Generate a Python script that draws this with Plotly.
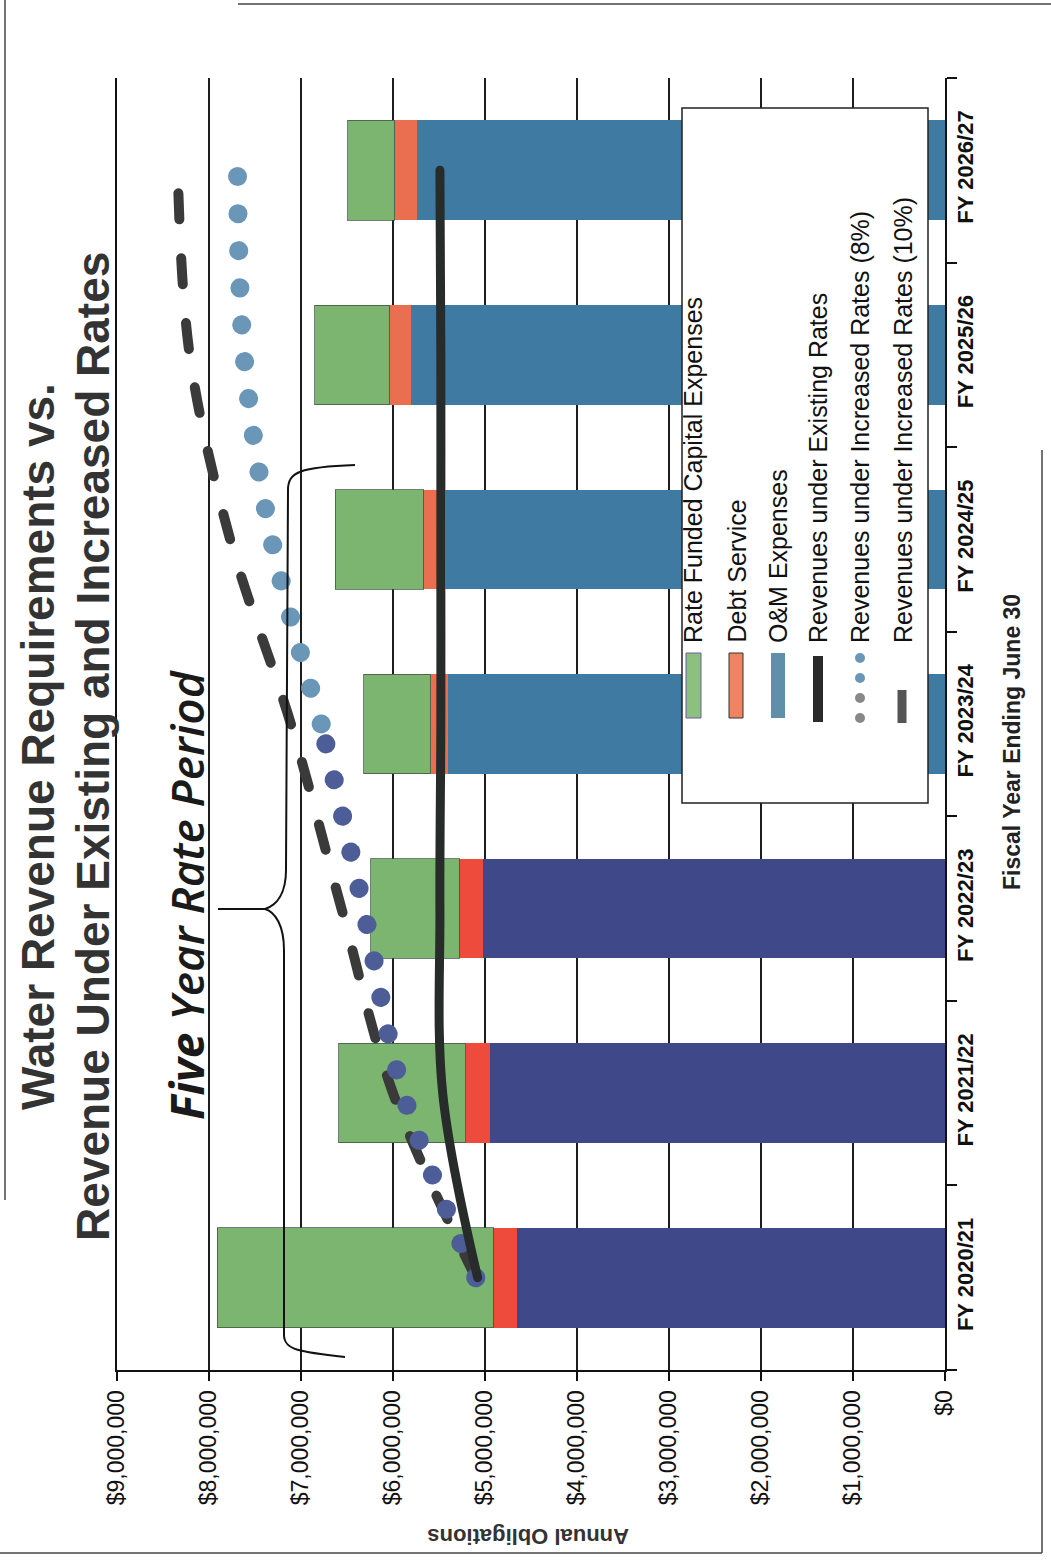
import plotly.graph_objects as go

# ---------------- data ----------------
categories = ["FY 2020/21", "FY 2021/22", "FY 2022/23", "FY 2023/24",
              "FY 2024/25", "FY 2025/26", "FY 2026/27"]
om_expenses = [4.65e6, 4.95e6, 5.02e6, 5.40e6, 5.42e6, 5.80e6, 5.74e6]
debt_service = [0.26e6, 0.26e6, 0.26e6, 0.19e6, 0.25e6, 0.24e6, 0.24e6]
capital_expenses = [3.00e6, 1.38e6, 0.96e6, 0.73e6, 0.96e6, 0.81e6, 0.51e6]

rev_existing = [5.08e6, 5.46e6, 5.49e6, 5.48e6, 5.48e6, 5.48e6, 5.49e6]
rev_8pct = [5.10e6, 5.89e6, 6.32e6, 6.78e6, 7.32e6, 7.62e6, 7.69e6]
rev_10pct = [5.10e6, 6.00e6, 6.56e6, 7.11e6, 7.77e6, 8.21e6, 8.34e6]

tick_values = [0, 1e6, 2e6, 3e6, 4e6, 5e6, 6e6, 7e6, 8e6, 9e6]
tick_labels = ["$0", "$1,000,000", "$2,000,000", "$3,000,000", "$4,000,000",
               "$5,000,000", "$6,000,000", "$7,000,000", "$8,000,000", "$9,000,000"]

legend_labels = ["Rate Funded Capital Expenses", "Debt Service", "O&M Expenses",
                 "Revenues under Existing Rates", "Revenues under Increased Rates (8%)",
                 "Revenues under Increased Rates (10%)"]

# ---------------- styling ----------------
W, H = 1051, 1567
ML, MR, MT, MB = 117, 106, 78, 197
PW, PH = W - ML - MR, H - MT - MB
FONT = "Liberation Sans, Arial, sans-serif"

GREEN = "#7cb56f"
RED_EARLY, RED_LATE = "#ef4b3c", "#ea6e50"
OM_EARLY, OM_LATE = "#3f4889", "#3e7aa1"
om_colors = [OM_EARLY] * 3 + [OM_LATE] * 4
red_colors = [RED_EARLY] * 3 + [RED_LATE] * 4


def px(x):
    return (x - ML) / PW


def py(y):
    return (MT + PH - y) / PH


fig = go.Figure()

fig.add_trace(go.Bar(y=categories, x=om_expenses, orientation="h",
                     marker=dict(color=om_colors, line=dict(width=0)),
                     name=legend_labels[2], showlegend=False))
fig.add_trace(go.Bar(y=categories, x=debt_service, orientation="h",
                     marker=dict(color=red_colors, line=dict(width=0)),
                     name=legend_labels[1], showlegend=False))
fig.add_trace(go.Bar(y=categories, x=capital_expenses, orientation="h",
                     marker=dict(color=GREEN, line=dict(width=1, color="rgba(60,70,60,0.7)")),
                     name=legend_labels[0], showlegend=False))

# revenue lines
fig.add_trace(go.Scatter(y=categories, x=rev_10pct, mode="lines",
                         line=dict(color="#3a3a3a", width=10, shape="spline", dash="26px,39px"),
                         name=legend_labels[5], showlegend=False))
fig.add_trace(go.Scatter(y=categories[:4], x=rev_8pct[:4], mode="lines",
                         line=dict(color="#4d5d97", width=19, shape="spline", dash="0.1px,37px"),
                         name=legend_labels[4], showlegend=False))
fig.add_trace(go.Scatter(y=categories[3:], x=rev_8pct[3:], mode="lines",
                         line=dict(color="#6a96b7", width=19, shape="spline", dash="0.1px,37px"),
                         name=legend_labels[4], showlegend=False))
fig.add_trace(go.Scatter(y=categories, x=rev_existing, mode="lines",
                         line=dict(color="#272b2a", width=9, shape="spline"),
                         name=legend_labels[3], showlegend=False))

shapes = []
annotations = []

# page border (scan frame)
for (x0, y0, x1, y1) in [(238, 4, 1051, 4), (5, 0, 5, 1200), (0, 1553, 1042, 1553), (1042, 450, 1042, 1553)]:
    shapes.append(dict(type="line", xref="paper", yref="paper",
                       x0=px(x0), y0=py(y0), x1=px(x1), y1=py(y1),
                       line=dict(color="#444", width=1.5), layer="above"))

# brace for five-year rate period
brace_pts = ("M {a} {b} C {c} {d} {e} {f} {g} {h} L {i} {j} C {k} {l} {m} {n} {o} {p} L {q} {r} "
             "M {o} {p} C {s} {t} {u} {v} {w} {x} L {y} {z} C {aa} {bb} {cc} {dd} {ee} {ff}")
brace = brace_pts.format(
    a=px(345), b=py(1357), c=px(300), d=py(1352), e=px(284), f=py(1350), g=px(284), h=py(1335),
    i=px(284), j=py(950), k=px(284), l=py(925), m=px(275), n=py(912), o=px(265), p=py(909),
    q=px(218), r=py(909), s=px(277), t=py(905), u=px(286), v=py(893), w=px(286), x=py(870),
    y=px(288), z=py(490), aa=px(288), bb=py(472), cc=px(300), dd=py(467), ee=px(355), ff=py(465))
shapes.append(dict(type="path", xref="paper", yref="paper", path=brace,
                   line=dict(color="#111", width=2), layer="above"))

# legend box
shapes.append(dict(type="rect", xref="paper", yref="paper",
                   x0=px(682), x1=px(928), y0=py(108), y1=py(803),
                   fillcolor="white", line=dict(color="#222", width=1.5), layer="above"))
leg_x = [693, 736, 778, 818, 860, 903]
# swatches
shapes.append(dict(type="rect", xref="paper", yref="paper", x0=px(686), x1=px(701),
                   y0=py(653), y1=py(718), fillcolor="#8cc07e",
                   line=dict(color="#6a5a9a", width=1), layer="above"))
shapes.append(dict(type="rect", xref="paper", yref="paper", x0=px(729), x1=px(743),
                   y0=py(653), y1=py(718), fillcolor="#f08362",
                   line=dict(color="#333", width=1), layer="above"))
shapes.append(dict(type="rect", xref="paper", yref="paper", x0=px(771), x1=px(785),
                   y0=py(653), y1=py(718), fillcolor="#5f90aa",
                   line=dict(width=0), layer="above"))
shapes.append(dict(type="line", xref="paper", yref="paper", x0=px(818), x1=px(818),
                   y0=py(656), y1=py(722), line=dict(color="#2a2a2a", width=10), layer="above"))
for cy, col in [(658, "#6a96b7"), (678, "#6a96b7"), (698, "#888"), (718, "#888")]:
    shapes.append(dict(type="circle", xref="paper", yref="paper",
                       x0=px(855), x1=px(865), y0=py(cy - 5), y1=py(cy + 5),
                       fillcolor=col, line=dict(width=0), layer="above"))
shapes.append(dict(type="line", xref="paper", yref="paper", x0=px(902), x1=px(902),
                   y0=py(690), y1=py(723), line=dict(color="#555", width=9), layer="above"))

for lx, lab in zip(leg_x, legend_labels):
    annotations.append(dict(xref="paper", yref="paper", x=px(lx), y=py(645),
                            xanchor="center", yanchor="bottom", text=lab, showarrow=False,
                            textangle=-90, font=dict(family=FONT, size=25, color="#111")))

# titles
annotations.append(dict(xref="paper", yref="paper", x=px(38), y=py(747), xanchor="center",
                        yanchor="middle", showarrow=False, textangle=-90,
                        text="<b>Water Revenue Requirements vs.</b>",
                        font=dict(family=FONT, size=46, color="#333")))
annotations.append(dict(xref="paper", yref="paper", x=px(93), y=py(747), xanchor="center",
                        yanchor="middle", showarrow=False, textangle=-90,
                        text="<b>Revenue Under Existing and Increased Rates</b>",
                        font=dict(family=FONT, size=46, color="#333")))
annotations.append(dict(xref="paper", yref="paper", x=px(186), y=py(895), xanchor="center",
                        yanchor="middle", showarrow=False, textangle=-90,
                        text="<i><b>Five</b> Year Rate Period</i>",
                        font=dict(family="Open Sans, Lato, sans-serif", size=46,
                                  color="#1a1a1a", weight=600)))
annotations.append(dict(xref="paper", yref="paper", x=px(1012), y=py(742), xanchor="center",
                        yanchor="middle", showarrow=False, textangle=-90,
                        text="<b>Fiscal Year Ending June 30</b>",
                        font=dict(family=FONT, size=23, color="#222")))
annotations.append(dict(xref="paper", yref="paper", x=px(528), y=py(1537), xanchor="center",
                        yanchor="middle", showarrow=False, textangle=180,
                        text="<b>Annual Obligations</b>",
                        font=dict(family=FONT, size=22, color="#333")))

fig.update_layout(
    width=W, height=H, margin=dict(l=ML, r=MR, t=MT, b=MB, pad=0),
    paper_bgcolor="white", plot_bgcolor="white",
    barmode="stack", bargap=0.46, showlegend=False,
    shapes=shapes, annotations=annotations,
    xaxis=dict(range=[9e6, 0], tickvals=tick_values, ticktext=tick_labels,
               tickangle=-90, tickfont=dict(family=FONT, size=23, color="#111"),
               showgrid=True, gridcolor="#1e1e1e", gridwidth=1.6,
               showline=True, linecolor="#111", linewidth=2,
               ticks="outside", ticklen=9, tickwidth=2, tickcolor="#111",
               zeroline=False, fixedrange=True),
    yaxis=dict(side="right", type="category", categoryorder="array", categoryarray=categories,
               range=[-0.5, 6.5], tickangle=-90,
               tickfont=dict(family=FONT, size=22, color="#111", weight="bold"),
               showgrid=False, showline=True, mirror=True, linecolor="#111", linewidth=2,
               ticks="outside", tickson="boundaries", ticklen=10, tickwidth=1.5,
               tickcolor="#111", zeroline=False, fixedrange=True),
)

post = ("var s=document.createElement('style');"
        "s.innerHTML='.scatterlayer path.js-line{stroke-linecap:round !important;}';"
        "document.head.appendChild(s);")
fig.write_html("out.html", post_script=post)
